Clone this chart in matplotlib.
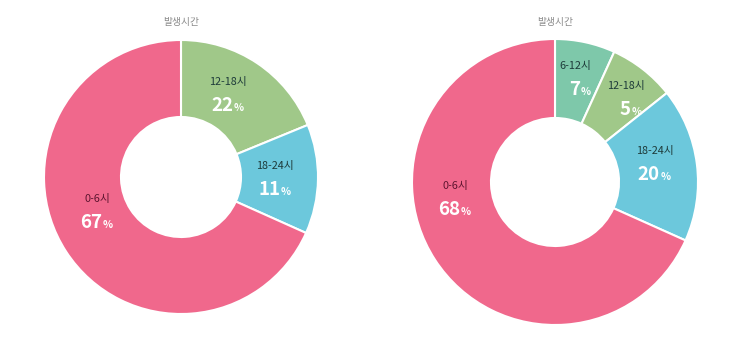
import matplotlib
matplotlib.use("Agg")
import matplotlib.pyplot as plt
import numpy as np

plt.rcParams['font.family'] = ['Noto Sans CJK KR', 'DejaVu Sans']

title = "발생시간"

# left donut: shares, labels as printed
left_cats = ["12-18시", "18-24시", "0-6시"]
left_share = [18.8, 12.9, 68.3]
left_pct = ["22", "11", "67"]
left_colors = ["#a0c889", "#6cc8dc", "#f0688c"]

# right donut
right_cats = ["6-12시", "12-18시", "18-24시", "0-6시"]
right_share = [6.8, 7.5, 17.4, 68.3]
right_pct = ["7", "5", "20", "68"]
right_colors = ["#7ec8aa", "#a0c889", "#6cc8dc", "#f0688c"]

H = 361
fig = plt.figure(figsize=(7.5, 3.61), dpi=100)
ax = fig.add_axes([0, 0, 1, 1])


def donut(cx, cy, r, r_in, shares, colors, cats, pcts, label_pos):
    ax.pie(shares, colors=colors, startangle=90, counterclock=False,
           center=(cx, H - cy), radius=r,
           wedgeprops=dict(width=r - r_in, edgecolor='white', linewidth=1.5))
    ax.text(cx, H - 22, title, ha='center', va='center', fontsize=7, color='#8a8a8a')
    dark = ['#1e3b3a' if c != "#f0688c" else '#5e1530' for c in colors]
    for cat, pct, (lx, ly), dc in zip(cats, pcts, label_pos, dark):
        ax.text(lx, H - ly, cat, ha='center', va='center', fontsize=7.8, color=dc)
        split = lx + 5
        base = H - ly - 29
        ax.text(split, base, pct, ha='right', va='baseline', fontsize=13.5,
                fontweight='bold', color='white')
        ax.text(split + 0.5, base, "%", ha='left', va='baseline', fontsize=7.5,
                fontweight='bold', color='white')


donut(181, 177, 137, 60, left_share, left_colors, left_cats, left_pct,
      [(228, 82), (275, 166), (97, 199)])
donut(555, 182, 143, 64, right_share, right_colors, right_cats, right_pct,
      [(575, 66), (626, 86), (655, 151), (455, 186)])

ax.set_xlim(0, 750)
ax.set_ylim(0, H)
ax.set_aspect('auto')
ax.axis('off')

fig.savefig("out.png", dpi=100, facecolor='white')
